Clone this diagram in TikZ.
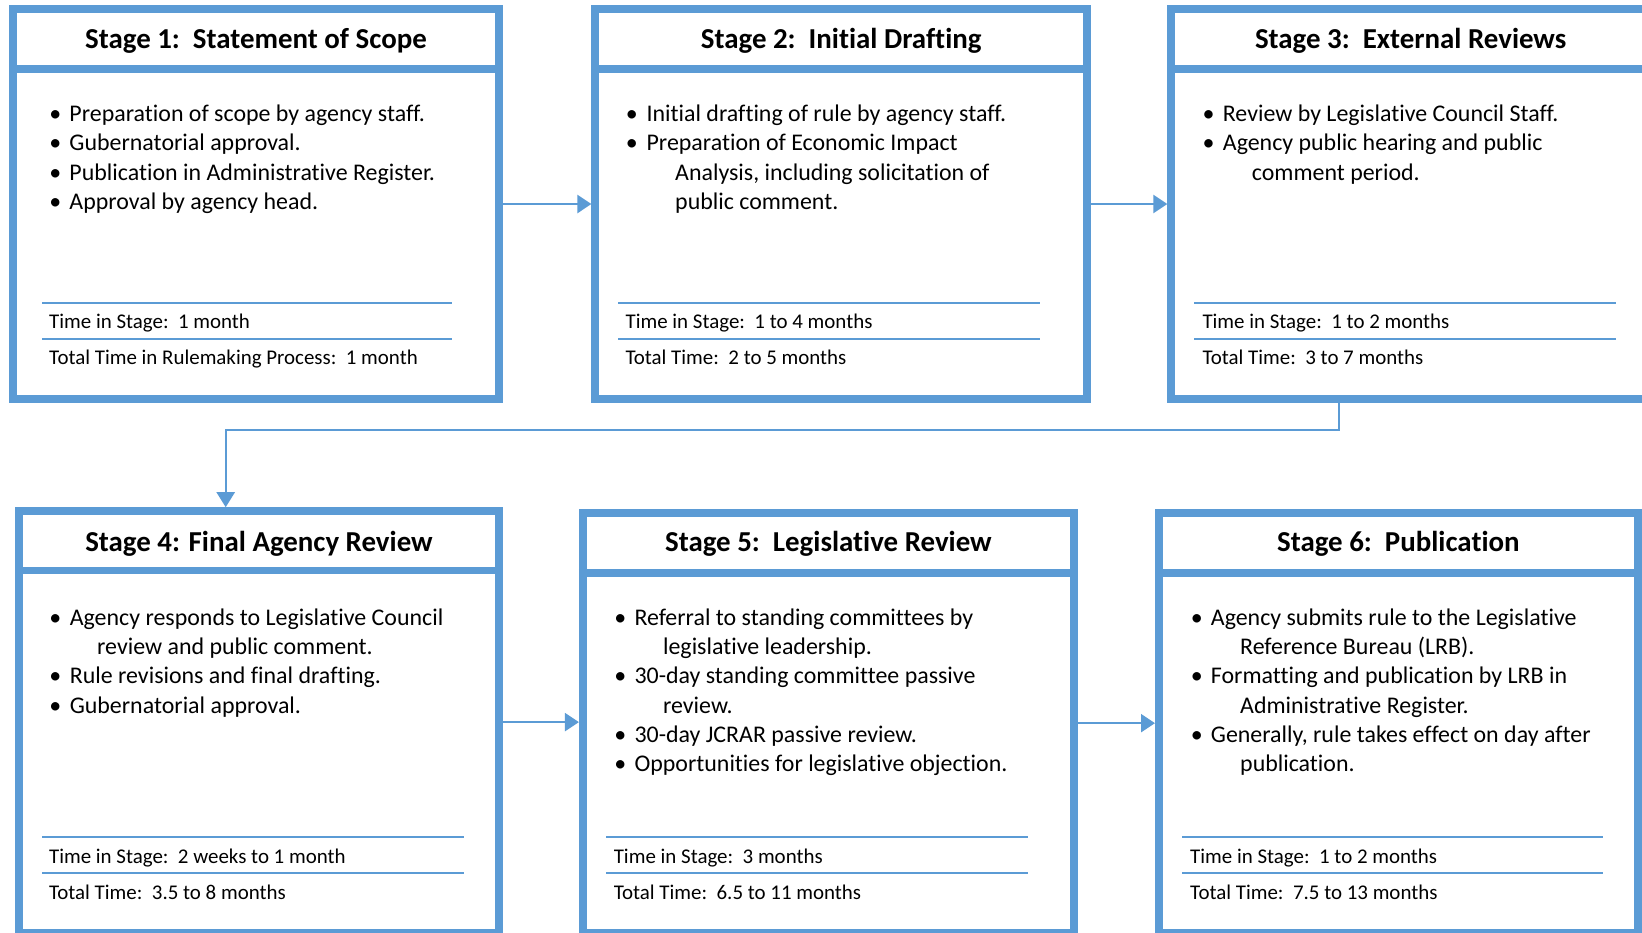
\documentclass[tikz,border=0pt]{standalone}
\usepackage{fontspec}
\setmainfont{Carlito}[Ligatures=NoCommon]
\usetikzlibrary{arrows.meta}
\definecolor{blu}{HTML}{5B9BD5}
\begin{document}
\begin{tikzpicture}[x=1bp,y=-1bp,
  box/.style={draw=blu,line width=8bp,inner sep=0pt,outer sep=4bp,fill=none},
  sepline/.style={draw=blu,line width=7.7bp},
  rule/.style={draw=blu,line width=2.4bp},
  arr/.style={draw=blu,line width=2.4bp,-{Triangle[length=14bp,width=18bp]}},
  title/.style={anchor=base,inner sep=0pt,font=\fontsize{29}{34}\selectfont\bfseries},
  txt/.style={anchor=base west,inner sep=0pt,font=\fontsize{24}{29}\selectfont},
  dot/.style={anchor=base,inner sep=0pt,font=\fontsize{24}{29}\selectfont},
  foot/.style={anchor=base west,inner sep=0pt,font=\fontsize{21}{25}\selectfont}]
\useasboundingbox (0,0) rectangle (1642,932);
\fill[white] (0,0) rectangle (1642,932);

% ---------- boxes ----------
\node[box,minimum width=485.4bp,minimum height=390bp] (s1) at (256,204) {};
\node[box,minimum width=491.6bp,minimum height=390bp] (s2) at (841.2,204) {};
\node[box,minimum width=478.7bp,minimum height=390bp] (s3) at (1410.65,204) {};
\node[box,minimum width=479.1bp,minimum height=421.8bp] (s4) at (258.95,722.1) {};
\node[box,minimum width=491bp,minimum height=419.7bp] (s5) at (828.4,723.15) {};
\node[box,minimum width=478.7bp,minimum height=419.7bp] (s6) at (1398.35,723.15) {};

% header separators
\draw[sepline] (s1.west |- 0,68.8) -- (s1.east |- 0,68.8);
\draw[sepline] (s2.west |- 0,68.8) -- (s2.east |- 0,68.8);
\draw[sepline] (s3.west |- 0,68.8) -- (s3.east |- 0,68.8);
\draw[sepline] (s4.west |- 0,570.5) -- (s4.east |- 0,570.5);
\draw[sepline] (s5.west |- 0,573) -- (s5.east |- 0,573);
\draw[sepline] (s6.west |- 0,573) -- (s6.east |- 0,573);

% titles
\node[title] (s1t) at (256,48.3) {Stage 1:\ \ Statement of Scope};
\node[title] (s2t) at (841.2,48.3) {Stage 2:\ \ Initial Drafting};
\node[title] (s3t) at (1410.65,48.3) {Stage 3:\ \ External Reviews};
\node[title] (s4t) at (258.95,551.5) {Stage 4: Final Agency Review};
\node[title] (s5t) at (828.4,551.7) {Stage 5:\ \ Legislative Review};
\node[title] (s6t) at (1398.35,551.7) {Stage 6:\ \ Publication};

% ---------- stage 1 ----------
\node[dot] (s1d1) at (55.3,121.5) {•};
\node[txt] (s1l1) at (69.3,121.5) {Preparation of scope by agency staff.};
\node[dot] (s1d2) at (55.3,150.8) {•};
\node[txt] (s1l2) at (69.3,150.8) {Gubernatorial approval.};
\node[dot] (s1d3) at (55.3,180.1) {•};
\node[txt] (s1l3) at (69.3,180.1) {Publication in Administrative Register.};
\node[dot] (s1d4) at (55.3,209.4) {•};
\node[txt] (s1l4) at (69.3,209.4) {Approval by agency head.};
\draw[rule] (42.3,302.7) -- (451.7,302.7);
\draw[rule] (42.3,339) -- (451.7,339);
\node[foot] (s1f1) at (49,328.3) {Time in Stage:\ \ 1 month};
\node[foot] (s1f2) at (49,364) {Total Time in Rulemaking Process:\ \ 1 month};

% ---------- stage 2 ----------
\node[dot] (s2d1) at (631.8,121.5) {•};
\node[txt] (s2l1) at (646.4,121.5) {Initial drafting of rule by agency staff.};
\node[dot] (s2d2) at (631.8,150.8) {•};
\node[txt] (s2l2) at (646.4,150.8) {Preparation of Economic Impact};
\node[txt] (s2l3) at (675,180.1) {Analysis, including solicitation of};
\node[txt] (s2l4) at (675,209.4) {public comment.};
\draw[rule] (618.2,302.7) -- (1039.6,302.7);
\draw[rule] (618.2,339) -- (1039.6,339);
\node[foot] (s2f1) at (625.4,328.3) {Time in Stage:\ \ 1 to 4 months};
\node[foot] (s2f2) at (625.4,364) {Total Time:\ \ 2 to 5 months};

% ---------- stage 3 ----------
\node[dot] (s3d1) at (1208.5,121.5) {•};
\node[txt] (s3l1) at (1222.7,121.5) {Review by Legislative Council Staff.};
\node[dot] (s3d2) at (1208.5,150.8) {•};
\node[txt] (s3l2) at (1222.7,150.8) {Agency public hearing and public};
\node[txt] (s3l3) at (1251.7,180.1) {comment period.};
\draw[rule] (1194,302.7) -- (1615.7,302.7);
\draw[rule] (1194,339) -- (1615.7,339);
\node[foot] (s3f1) at (1202.3,328.3) {Time in Stage:\ \ 1 to 2 months};
\node[foot] (s3f2) at (1202.3,364) {Total Time:\ \ 3 to 7 months};

% ---------- stage 4 ----------
\node[dot] (s4d1) at (55.3,625.7) {•};
\node[txt] (s4l1) at (69.6,625.7) {Agency responds to Legislative Council};
\node[txt] (s4l2) at (97,654.8) {review and public comment.};
\node[dot] (s4d3) at (55.3,683.9) {•};
\node[txt] (s4l3) at (69.6,683.9) {Rule revisions and final drafting.};
\node[dot] (s4d4) at (55.3,713) {•};
\node[txt] (s4l4) at (69.6,713) {Gubernatorial approval.};
\draw[rule] (42.1,836.7) -- (463.6,836.7);
\draw[rule] (42.1,872.7) -- (463.6,872.7);
\node[foot] (s4f1) at (48.9,863.3) {Time in Stage:\ \ 2 weeks to 1 month};
\node[foot] (s4f2) at (48.9,899.3) {Total Time:\ \ 3.5 to 8 months};

% ---------- stage 5 ----------
\node[dot] (s5d1) at (620.2,625.7) {•};
\node[txt] (s5l1) at (634.3,625.7) {Referral to standing committees by};
\node[txt] (s5l2) at (662.9,654.8) {legislative leadership.};
\node[dot] (s5d3) at (620.2,683.9) {•};
\node[txt] (s5l3) at (634.3,683.9) {30-day standing committee passive};
\node[txt] (s5l4) at (662.9,713) {review.};
\node[dot] (s5d5) at (620.2,742.1) {•};
\node[txt] (s5l5) at (634.3,742.1) {30-day JCRAR passive review.};
\node[dot] (s5d6) at (620.2,771.2) {•};
\node[txt] (s5l6) at (634.3,771.2) {Opportunities for legislative objection.};
\draw[rule] (606.4,836.7) -- (1027.9,836.7);
\draw[rule] (606.4,872.7) -- (1027.9,872.7);
\node[foot] (s5f1) at (613.6,863.3) {Time in Stage:\ \ 3 months};
\node[foot] (s5f2) at (613.6,899.3) {Total Time:\ \ 6.5 to 11 months};

% ---------- stage 6 ----------
\node[dot] (s6d1) at (1196.9,625.7) {•};
\node[txt] (s6l1) at (1210.7,625.7) {Agency submits rule to the Legislative};
\node[txt] (s6l2) at (1240,654.8) {Reference Bureau (LRB).};
\node[dot] (s6d3) at (1196.9,683.9) {•};
\node[txt] (s6l3) at (1210.7,683.9) {Formatting and publication by LRB in};
\node[txt] (s6l4) at (1240,713) {Administrative Register.};
\node[dot] (s6d5) at (1196.9,742.1) {•};
\node[txt] (s6l5) at (1210.7,742.1) {Generally, rule takes effect on day after};
\node[txt] (s6l6) at (1240,771.2) {publication.};
\draw[rule] (1182.3,836.7) -- (1603.3,836.7);
\draw[rule] (1182.3,872.7) -- (1603.3,872.7);
\node[foot] (s6f1) at (1190,863.3) {Time in Stage:\ \ 1 to 2 months};
\node[foot] (s6f2) at (1190,899.3) {Total Time:\ \ 7.5 to 13 months};

% ---------- connectors ----------
\coordinate (c1) at (1339,430);
\coordinate (c2) at (225.7,430);
\draw[arr] (s1.east) -- (s2.west);
\draw[arr] (s2.east) -- (s3.west);
\draw[arr,-{Triangle[length=15bp,width=18bp]}] (s3.south -| c1) -- (c1) -- (c2) -- (s4.north -| c2);
\draw[arr] (s4.east) -- (s4.east -| s5.west);
\draw[arr] (s5.east) -- (s6.west);
\end{tikzpicture}
\end{document}
